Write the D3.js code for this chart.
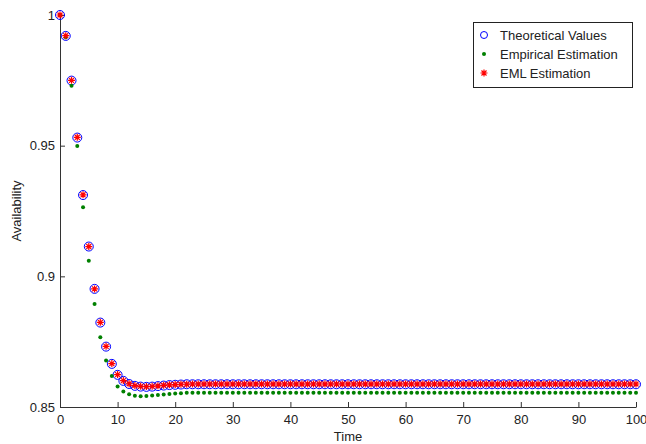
<!DOCTYPE html>
<html>
<head>
<meta charset="utf-8">
<script src="https://cdn.jsdelivr.net/npm/d3@7"></script>
<style>
  body { margin: 0; background: #fff; }
  svg { font-family: "Liberation Sans", Arial, sans-serif; }
</style>
</head>
<body>
<div id="chart"></div>
<script>
// Dane (czas 0..100)
const time = d3.range(0, 101);

const theoretical = [
  1.0000, 0.9920, 0.9749, 0.9531, 0.9311, 0.9114, 0.8952, 0.8823, 0.8731, 0.8665,
  0.8623, 0.8600, 0.8588, 0.8581, 0.8578, 0.8577, 0.8578, 0.8580, 0.8582, 0.8584,
  0.8585, 0.8586, 0.8587, 0.8587, 0.8587, 0.8587, 0.8587, 0.8587, 0.8587, 0.8587,
  0.8587, 0.8587, 0.8587, 0.8587, 0.8587, 0.8587, 0.8587, 0.8587, 0.8587, 0.8587,
  0.8587, 0.8587, 0.8587, 0.8587, 0.8587, 0.8587, 0.8587, 0.8587, 0.8587, 0.8587,
  0.8587, 0.8587, 0.8587, 0.8587, 0.8587, 0.8587, 0.8587, 0.8587, 0.8587, 0.8587,
  0.8587, 0.8587, 0.8587, 0.8587, 0.8587, 0.8587, 0.8587, 0.8587, 0.8587, 0.8587,
  0.8587, 0.8587, 0.8587, 0.8587, 0.8587, 0.8587, 0.8587, 0.8587, 0.8587, 0.8587,
  0.8587, 0.8587, 0.8587, 0.8587, 0.8587, 0.8587, 0.8587, 0.8587, 0.8587, 0.8587,
  0.8587, 0.8587, 0.8587, 0.8587, 0.8587, 0.8587, 0.8587, 0.8587, 0.8587, 0.8587,
  0.8587
];

const empirical = [
  1.0000, 0.9915, 0.9729, 0.9499, 0.9264, 0.9060, 0.8894, 0.8767, 0.8678, 0.8619,
  0.8578, 0.8559, 0.8549, 0.8543, 0.8541, 0.8542, 0.8544, 0.8546, 0.8548, 0.8550,
  0.8552, 0.8553, 0.8555, 0.8555, 0.8555, 0.8555, 0.8555, 0.8555, 0.8555, 0.8555,
  0.8555, 0.8555, 0.8555, 0.8555, 0.8555, 0.8555, 0.8555, 0.8555, 0.8555, 0.8555,
  0.8555, 0.8555, 0.8555, 0.8555, 0.8555, 0.8555, 0.8555, 0.8555, 0.8555, 0.8555,
  0.8555, 0.8555, 0.8555, 0.8555, 0.8555, 0.8555, 0.8555, 0.8555, 0.8555, 0.8555,
  0.8555, 0.8555, 0.8555, 0.8555, 0.8555, 0.8555, 0.8555, 0.8555, 0.8555, 0.8555,
  0.8555, 0.8555, 0.8555, 0.8555, 0.8555, 0.8555, 0.8555, 0.8555, 0.8555, 0.8555,
  0.8555, 0.8555, 0.8555, 0.8555, 0.8555, 0.8555, 0.8555, 0.8555, 0.8555, 0.8555,
  0.8555, 0.8555, 0.8555, 0.8555, 0.8555, 0.8555, 0.8555, 0.8555, 0.8555, 0.8555,
  0.8555
];

const eml = [
  1.0000, 0.9921, 0.9750, 0.9532, 0.9312, 0.9114, 0.8952, 0.8824, 0.8732, 0.8666,
  0.8624, 0.8601, 0.8589, 0.8582, 0.8579, 0.8578, 0.8579, 0.8581, 0.8583, 0.8585,
  0.8586, 0.8587, 0.8587, 0.8588, 0.8588, 0.8588, 0.8588, 0.8588, 0.8588, 0.8588,
  0.8588, 0.8588, 0.8588, 0.8588, 0.8588, 0.8588, 0.8588, 0.8588, 0.8588, 0.8588,
  0.8588, 0.8588, 0.8588, 0.8588, 0.8588, 0.8588, 0.8588, 0.8588, 0.8588, 0.8588,
  0.8588, 0.8588, 0.8588, 0.8588, 0.8588, 0.8588, 0.8588, 0.8588, 0.8588, 0.8588,
  0.8588, 0.8588, 0.8588, 0.8588, 0.8588, 0.8588, 0.8588, 0.8588, 0.8588, 0.8588,
  0.8588, 0.8588, 0.8588, 0.8588, 0.8588, 0.8588, 0.8588, 0.8588, 0.8588, 0.8588,
  0.8588, 0.8588, 0.8588, 0.8588, 0.8588, 0.8588, 0.8588, 0.8588, 0.8588, 0.8588,
  0.8588, 0.8588, 0.8588, 0.8588, 0.8588, 0.8588, 0.8588, 0.8588, 0.8588, 0.8588,
  0.8588
];

const xTicks = [0, 10, 20, 30, 40, 50, 60, 70, 80, 90, 100];
const yTicks = [0.85, 0.9, 0.95, 1];
const yTickLabels = ["0.85", "0.9", "0.95", "1"];
const legendLabels = ["Theoretical Values", "Empirical Estimation", "EML Estimation"];

const width = 646;
const height = 444;
const margin = { top: 15, right: 10, bottom: 37, left: 60 };

const svg = d3.select("#chart")
  .append("svg")
  .attr("width", width)
  .attr("height", height);

const x = d3.scaleLinear()
  .domain([0, 100])
  .range([margin.left, 636]);

const y = d3.scaleLinear()
  .domain([0.85, 1])
  .range([height - margin.bottom, margin.top]);

// Osie (ticki do wewnątrz jak w MATLAB-ie)
const xAxis = svg.append("g")
  .attr("transform", "translate(0," + y(0.85) + ")")
  .call(d3.axisBottom(x).tickValues(xTicks).tickSizeInner(-5).tickSizeOuter(0).tickPadding(8));

const yAxis = svg.append("g")
  .attr("transform", "translate(" + x(0) + ",0)")
  .call(d3.axisLeft(y).tickValues(yTicks).tickFormat((d, i) => yTickLabels[i])
    .tickSizeInner(-5).tickSizeOuter(0).tickPadding(5));

[xAxis, yAxis].forEach(g => {
  g.selectAll("text").attr("font-size", 13).attr("fill", "#222")
    .attr("font-family", "Liberation Sans, Arial, sans-serif");
  g.selectAll("line").attr("stroke", "#333");
  g.select(".domain").attr("stroke", "#333");
});

// Etykiety osi
svg.append("text")
  .attr("x", x(50))
  .attr("y", 441)
  .attr("text-anchor", "middle")
  .attr("font-size", 13)
  .attr("fill", "#222")
  .text("Time");

svg.append("text")
  .attr("transform", "translate(21," + y(0.925) + ") rotate(-90)")
  .attr("text-anchor", "middle")
  .attr("font-size", 13)
  .attr("fill", "#222")
  .text("Availability");

// Symbol gwiazdki (plus + x)
function starPath(cx, cy, r) {
  const d = r * 0.72;
  return "M" + (cx - r) + "," + cy + "H" + (cx + r) +
    "M" + cx + "," + (cy - r) + "V" + (cy + r) +
    "M" + (cx - d) + "," + (cy - d) + "L" + (cx + d) + "," + (cy + d) +
    "M" + (cx - d) + "," + (cy + d) + "L" + (cx + d) + "," + (cy - d);
}

// Wartości teoretyczne - niebieskie kółka
svg.append("g").selectAll("circle")
  .data(time)
  .enter()
  .append("circle")
  .attr("cx", d => x(d))
  .attr("cy", (d, i) => y(theoretical[i]))
  .attr("r", 4.5)
  .attr("fill", "none")
  .attr("stroke", "#0000ff")
  .attr("stroke-width", 1);

// Estymacja empiryczna - zielone kropki
svg.append("g").selectAll("circle")
  .data(time)
  .enter()
  .append("circle")
  .attr("cx", d => x(d))
  .attr("cy", (d, i) => y(empirical[i]))
  .attr("r", 2)
  .attr("fill", "#008000");

// Estymacja EML - czerwone gwiazdki
svg.append("g").selectAll("path")
  .data(time)
  .enter()
  .append("path")
  .attr("d", (d, i) => starPath(x(d), y(eml[i]), 3.5))
  .attr("stroke", "#ff0000")
  .attr("stroke-width", 1.2)
  .attr("fill", "none");

// Legenda
const legend = svg.append("g");
legend.append("rect")
  .attr("x", 473.5)
  .attr("y", 22.5)
  .attr("width", 159)
  .attr("height", 65)
  .attr("fill", "#fff")
  .attr("stroke", "#222");

legendLabels.forEach((label, i) => {
  const ly = 35 + i * 19;
  if (i === 0) {
    legend.append("circle").attr("cx", 484).attr("cy", ly).attr("r", 3.5)
      .attr("fill", "none").attr("stroke", "#0000ff");
  } else if (i === 1) {
    legend.append("circle").attr("cx", 484).attr("cy", ly).attr("r", 2)
      .attr("fill", "#008000");
  } else {
    legend.append("path").attr("d", starPath(484, ly, 3.5))
      .attr("stroke", "#ff0000").attr("stroke-width", 1.2).attr("fill", "none");
  }
  legend.append("text")
    .attr("x", 500)
    .attr("y", ly + 4.5)
    .attr("font-size", 13)
    .attr("fill", "#222")
    .text(label);
});
</script>
</body>
</html>
